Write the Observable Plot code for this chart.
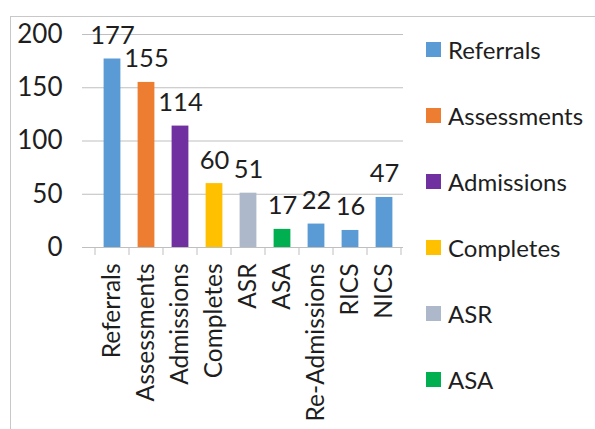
<!DOCTYPE html>
<html>
<head>
<meta charset="utf-8">
<script src="https://cdn.jsdelivr.net/npm/d3@7"></script>
<script src="https://cdn.jsdelivr.net/npm/@observablehq/plot@0.6"></script>
<style>
  html, body { margin: 0; padding: 0; background: #fff; }
  #wrap { position: relative; width: 595px; height: 429px; overflow: hidden; font-family: Lato, "Open Sans", sans-serif; color: #1e1e1e; }
  #frame { position: absolute; left: 10px; top: 16px; right: -5px; bottom: -5px; border-top: 1px solid #c8c8c8; border-left: 1px solid #c8c8c8; }
  #chart { position: absolute; left: 0; top: 0; }
  #legend { position: absolute; left: 426px; top: 36px; }
  .item { display: flex; align-items: center; height: 26px; margin-bottom: 40.2px; font-size: 24px; }
  .sw { width: 15px; height: 15px; margin-right: 7px; flex: none; }
</style>
</head>
<body>
<div id="wrap">
  <div id="frame"></div>
  <div id="chart"></div>
  <div id="legend"></div>
</div>
<script>
const categories = ["Referrals", "Assessments", "Admissions", "Completes", "ASR", "ASA", "Re-Admissions", "RICS", "NICS"];
const values = [177, 155, 114, 60, 51, 17, 22, 16, 47];
const colors = ["#5B9BD5", "#ED7D31", "#7030A0", "#FFC000", "#ADB9CA", "#00B050", "#5B9BD5", "#5B9BD5", "#5B9BD5"];
const yTicks = [0, 50, 100, 150, 200];
const legendItems = ["Referrals", "Assessments", "Admissions", "Completes", "ASR", "ASA"];

const data = categories.map((c, i) => ({category: c, value: values[i]}));

const bandTicks = (index, scales, values, dims) => {
  const g = d3.create("svg:g");
  const x = scales.x, y = scales.y;
  const bw = x.bandwidth();
  const x0 = d3.min(categories, c => x(c));
  const y0 = y(0);
  for (let i = 0; i <= categories.length; i++) {
    const px = x0 + i * bw;
    g.append("line").attr("x1", px).attr("x2", px).attr("y1", y0).attr("y2", y0 + 8)
      .attr("stroke", "#bfbfbf").attr("stroke-width", 1);
  }
  return g.node();
};

const plot = Plot.plot({
  width: 595,
  height: 429,
  marginLeft: 92,
  marginRight: 192,
  marginTop: 34,
  marginBottom: 182,
  style: {fontFamily: "Lato, 'Open Sans', sans-serif", background: "transparent", color: "#1e1e1e"},
  x: {domain: categories, padding: 0},
  y: {domain: [0, 200]},
  color: {domain: categories, range: colors},
  marks: [
    Plot.gridY(yTicks, {stroke: "#bfbfbf", strokeOpacity: 1, strokeWidth: 1}),
    Plot.axisY(yTicks, {tickSize: 10, tickPadding: 20, fontSize: 26, stroke: "#bfbfbf", strokeOpacity: 1, fill: "#1e1e1e", label: null}),
    Plot.ruleX([0], {x: () => null, frameAnchor: "left", stroke: "#bfbfbf"}),
    Plot.barY(data, {x: "category", y: "value", fill: "category", insetLeft: 8.6, insetRight: 8.6}),
    Plot.text(data, {x: "category", y: "value", text: d => String(d.value), lineAnchor: "bottom", dy: -15, fontSize: 25.5, fill: "#1e1e1e"}),
    Plot.axisX({tickSize: 0, tickRotate: -90, tickPadding: 16, fontSize: 24.5, fill: "#1e1e1e", label: null}),
    bandTicks
  ]
});
document.getElementById("chart").appendChild(plot);

const legend = document.getElementById("legend");
legendItems.forEach(name => {
  const i = categories.indexOf(name);
  const item = document.createElement("div");
  item.className = "item";
  const sw = document.createElement("div");
  sw.className = "sw";
  sw.style.background = colors[i];
  const t = document.createElement("span");
  t.textContent = name;
  item.appendChild(sw);
  item.appendChild(t);
  legend.appendChild(item);
});
</script>
</body>
</html>
